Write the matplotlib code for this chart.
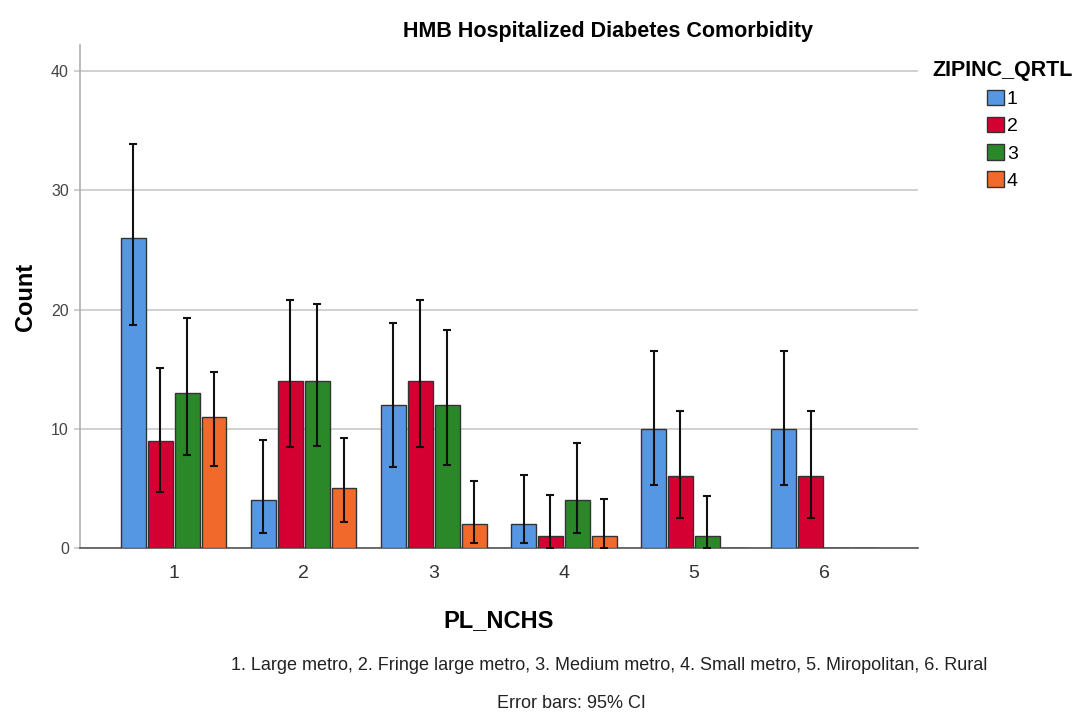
import numpy as np
import matplotlib.pyplot as plt
from matplotlib.patches import Patch

plt.rcParams['font.family'] = ['Liberation Sans', 'DejaVu Sans']

# PL_NCHS categories and ZIPINC_QRTL quartiles
groups = [1, 2, 3, 4, 5, 6]
quartiles = ['1', '2', '3', '4']

# counts for each quartile across the six categories
q1 = [26, 4, 12, 2, 10, 10]
q2 = [9, 14, 14, 1, 6, 6]
q3 = [13, 14, 12, 4, 1, 0]
q4 = [11, 5, 2, 1, 0, 0]

# 95% CI bounds (nan where the count is zero)
q1_lo = [18.7, 1.3, 6.8, 0.4, 5.3, 5.3]
q1_hi = [33.9, 9.05, 18.9, 6.1, 16.5, 16.5]
q2_lo = [4.7, 8.5, 8.5, 0.0, 2.5, 2.5]
q2_hi = [15.1, 20.8, 20.8, 4.45, 11.5, 11.5]
q3_lo = [7.8, 8.55, 7.0, 1.3, 0.0, np.nan]
q3_hi = [19.3, 20.45, 18.3, 8.8, 4.4, np.nan]
q4_lo = [6.9, 2.2, 0.4, 0.0, np.nan, np.nan]
q4_hi = [14.75, 9.2, 5.6, 4.1, np.nan, np.nan]

counts = [q1, q2, q3, q4]
lows = [q1_lo, q2_lo, q3_lo, q4_lo]
highs = [q1_hi, q2_hi, q3_hi, q4_hi]
colors = ['#5697e4', '#d50032', '#2b8829', '#f26a2b']

fig = plt.figure(figsize=(10.86, 7.13), dpi=100)
ax = fig.add_axes([0.0737, 0.2314, 0.7713, 0.7056])

x = np.array(groups, dtype=float)
pitch = 0.207
w = 0.19
for i in range(4):
    xs = x + (i - 1.5) * pitch
    ax.bar(xs, counts[i], width=w, color=colors[i], edgecolor='#333333',
           linewidth=1.0, zorder=3)
    lo = np.array(lows[i])
    hi = np.array(highs[i])
    mid = (lo + hi) / 2
    ax.errorbar(xs, mid, yerr=(hi - lo) / 2, fmt='none', ecolor='#111111',
                elinewidth=1.5, capsize=3, capthick=1.5, zorder=4)

ax.set_xlim(0.28, 6.72)
ax.set_ylim(0, 42.2)
ax.set_yticks([0, 10, 20, 30, 40])
ax.set_xticks(groups)
ax.yaxis.grid(True, color='#c8c8c8', linewidth=1.2, zorder=0)
ax.set_axisbelow(True)
ax.tick_params(axis='x', length=0, labelsize=14, pad=12, colors='#333333')
ax.tick_params(axis='y', length=4, width=1.2, color='#c8c8c8',
               labelsize=11.5, pad=4, labelcolor='#444444')
for s in ['top', 'right']:
    ax.spines[s].set_visible(False)
ax.spines['left'].set_color('#b0b0b0')
ax.spines['left'].set_linewidth(1.2)
ax.spines['bottom'].set_color('#555555')
ax.spines['bottom'].set_linewidth(1.2)

ax.set_title('HMB Hospitalized Diabetes Comorbidity', fontsize=15.5,
             fontweight='bold', pad=6, x=0.63)
ax.set_ylabel('Count', fontsize=17, fontweight='bold', labelpad=10)
ax.set_xlabel('PL_NCHS', fontsize=17, fontweight='bold', labelpad=20)

handles = [Patch(facecolor=c, edgecolor='#333333', linewidth=1.0) for c in colors]
leg = fig.legend(handles, quartiles, title='ZIPINC_QRTL', loc='upper left',
                 bbox_to_anchor=(0.846, 0.935), frameon=False, fontsize=14,
                 handlelength=0.85, handleheight=0.85, handletextpad=0.15,
                 labelspacing=0.45, borderpad=0.2)
leg.get_title().set_fontweight('bold')
leg.get_title().set_fontsize(15.5)

fig.text(0.561, 0.067, '1. Large metro, 2. Fringe large metro, 3. Medium metro, '
         '4. Small metro, 5. Miropolitan, 6. Rural', ha='center', va='center',
         fontsize=13, color='#222222')
fig.text(0.526, 0.014, 'Error bars: 95% CI', ha='center', va='center',
         fontsize=13, color='#222222')

fig.savefig('out.png', dpi=100)
